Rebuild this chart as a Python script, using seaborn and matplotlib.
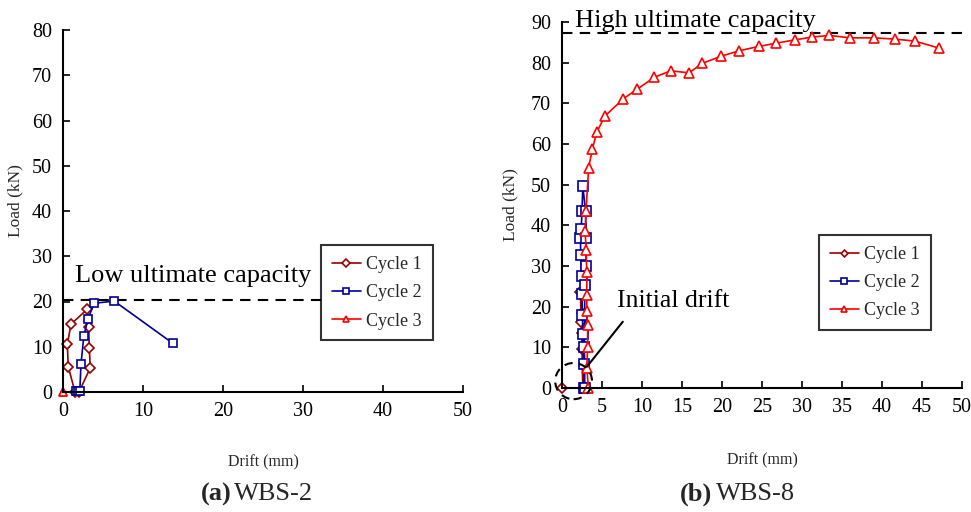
import matplotlib
matplotlib.use("Agg")
import matplotlib.pyplot as plt
import seaborn as sns
import pandas as pd
from matplotlib.patches import Ellipse

# ---------------- data ----------------
# Panel (a) WBS-2
a_c1_x = [1.5, 0.66, 0.54, 1.0, 3.04, 3.2, 3.3, 3.4, 2.0]
a_c1_y = [0.0, 5.6, 10.5, 15.0, 18.3, 14.3, 9.7, 5.3, 0.0]
a_c2_x = [1.6, 1.9, 2.1, 2.25, 2.6, 3.1, 3.9, 6.4, 13.7]
a_c2_y = [0.2, 0.2, 0.2, 6.2, 12.3, 16.1, 19.6, 20.1, 10.8]
a_c3_x = [0.0, 0.05]
a_c3_y = [0.0, 0.0]
a_capacity = 20.3

# Panel (b) WBS-8
b_c1_x = [0.0, 2.6, 2.5, 2.45, 2.4, 2.3, 2.55, 2.6, 2.65, 2.7, 2.7]
b_c1_y = [0.0, 0.0, 9.5, 13.6, 16.3, 23.7, 18.4, 13.6, 9.5, 5.5, 0.0]
b_c2_x = [2.8, 2.7, 2.6, 2.55, 2.5, 2.45, 2.35, 2.3, 2.4, 2.5, 2.6,
          2.95, 3.0, 2.95, 2.85, 2.8, 2.85]
b_c2_y = [0.0, 6.0, 13.4, 18.0, 23.0, 27.6, 32.7, 36.8, 39.0, 43.5, 49.6,
          43.5, 37.0, 30.0, 25.3, 10.0, 0.0]
b_c3_x = [3.3, 3.1, 3.2, 3.2, 3.1, 3.1, 3.1, 3.0, 2.9, 3.0, 3.33, 3.79,
          4.34, 5.38, 7.66, 9.41, 11.54, 13.59, 15.88, 17.5, 19.9, 22.1,
          24.6, 26.8, 29.1, 31.3, 33.4, 36.0, 39.0, 41.6, 44.1, 47.1]
b_c3_y = [0.0, 5.0, 10.0, 15.5, 19.0, 22.9, 28.6, 34.0, 38.5, 43.5, 54.2, 58.7,
          62.9, 66.9, 71.1, 73.5, 76.4, 78.0, 77.5, 79.8, 81.6, 82.9,
          84.0, 84.8, 85.6, 86.3, 86.7, 86.1, 86.1, 85.8, 85.3, 83.6]
b_capacity = 87.2

labels = ["Cycle 1", "Cycle 2", "Cycle 3"]
colors = ["#990000", "#000099", "#FF0000"]
markers = ["D", "s", "^"]

# ---------------- style ----------------
sns.set_theme(style="white")
plt.rcParams["font.family"] = ["Liberation Serif", "DejaVu Serif"]
plt.rcParams["axes.edgecolor"] = "black"

fig = plt.figure(figsize=(9.71, 5.12), dpi=100)
axa = fig.add_axes([63/971, 1-392/512, 400/971, 362/512])
axb = fig.add_axes([562/971, 1-388/512, 400/971, 366/512])


def draw(ax, xs, ys, msizes):
    for x, y, lab, c, m, ms in zip(xs, ys, labels, colors, markers, msizes):
        df = pd.DataFrame({"x": x, "y": y})
        sns.lineplot(data=df, x="x", y="y", sort=False, estimator=None,
                     color=c, marker=m, markersize=ms, linewidth=1.2,
                     label=lab, ax=ax, legend=False)
    for ln in ax.get_lines():
        ln.set_markerfacecolor("white")
        ln.set_markeredgecolor(ln.get_color())
        ln.set_markeredgewidth(1.2)
        ln.set_clip_on(False)


draw(axa, [a_c1_x, a_c2_x, a_c3_x], [a_c1_y, a_c2_y, a_c3_y], [5.5, 6, 6])
draw(axb, [b_c1_x, b_c2_x, b_c3_x], [b_c1_y, b_c2_y, b_c3_y], [5, 7, 6.5])

for ax, ymax, step in [(axa, 80, 10), (axb, 90, 10)]:
    ax.set_ylim(0, ymax)
    ax.set_xlim(0, 50)
    ax.set_yticks(range(0, ymax + 1, step))
    for s in ["top", "right"]:
        ax.spines[s].set_visible(False)
    for s in ["left", "bottom"]:
        ax.spines[s].set_linewidth(1.5)
        ax.spines[s].set_color("black")
    ax.tick_params(direction="in", length=5, width=1.2, colors="black",
                   labelsize=14.5, left=True, bottom=True)
    ax.tick_params(axis="y", pad=8)
    ax.tick_params(axis="x", pad=7)
    ax.set_xlabel("Drift (mm)", fontsize=11.5)
    ax.set_ylabel("Load (kN)", fontsize=12.5)

axa.set_xticks(range(0, 51, 10))
axb.set_xticks(range(0, 51, 5))

axa.xaxis.set_label_coords(0.5, -0.172)
axb.xaxis.set_label_coords(0.5, -0.176)
axa.yaxis.set_label_coords(-0.098, 0.53)
axb.yaxis.set_label_coords(-0.108, 0.5)

# capacity lines
axa.plot([0, 32.5], [a_capacity, a_capacity], color="black", lw=1.5,
         dashes=(5, 3.5), zorder=1)
axb.plot([0, 50], [b_capacity, b_capacity], color="black", lw=1.5,
         dashes=(5, 3.5), zorder=1)

axa.text(1.5, 25.6, "Low ultimate capacity", fontsize=19, va="center",
         ha="left", color="black")
axb.text(1.6, 90.3, "High ultimate capacity", fontsize=19, va="center",
         ha="left", color="black", clip_on=False)

# initial drift annotation
axb.text(6.9, 21.3, "Initial drift", fontsize=18.5, ha="left", va="center",
         color="black")
axb.plot([7.6, 3.1], [16.3, 5.2], color="black", lw=1.5)
axb.add_patch(Ellipse((1.45, 1.7), 4.6, 8.9, fill=False, edgecolor="black",
                      lw=1.5, linestyle=(0, (4, 3)), clip_on=False, zorder=5))

# legends
for ax, anchor in [(axa, (0.645, 0.405)), (axb, (0.6425, 0.418))]:
    leg = ax.legend(loc="upper left", bbox_to_anchor=anchor, fontsize=13,
                    frameon=True, fancybox=False, edgecolor="black",
                    handlelength=1.6, handletextpad=0.3, labelspacing=0.62,
                    borderpad=0.6, borderaxespad=0, markerscale=0.7)
    leg.get_frame().set_linewidth(1.5)
    for h in leg.get_lines():
        h.set_markerfacecolor("white")

# panel captions
fig.text(232/971, 1-494/512, "(a)", fontsize=19, fontweight="bold",
         ha="right", va="center")
fig.text(234/971, 1-494/512, "WBS-2", fontsize=19, ha="left", va="center")
fig.text(712/971, 1-494/512, "(b)", fontsize=19, fontweight="bold",
         ha="right", va="center")
fig.text(716/971, 1-494/512, "WBS-8", fontsize=19, ha="left", va="center")

fig.savefig("out.png", dpi=100, facecolor="white")
